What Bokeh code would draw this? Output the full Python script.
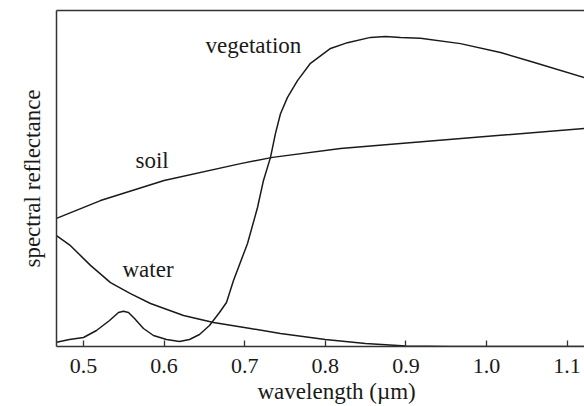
from bokeh.plotting import figure
from bokeh.models import Range1d, LinearAxis, FixedTicker, Title, NumeralTickFormatter
from bokeh.core.properties import value
from bokeh.embed import file_html
from bokeh.resources import INLINE

# wavelength (um) / relative spectral reflectance (arbitrary units)
soil_wl = [0.4665, 0.5211, 0.600, 0.6948, 0.7345, 0.8189, 0.8933, 1.0174, 1.1216]
soil_r = [26.7, 30.4, 34.6, 38.1, 39.4, 41.25, 42.3, 44.0, 45.4]

water_wl = [0.4665, 0.4839, 0.5087, 0.5335, 0.5583, 0.5831, 0.6241, 0.6613, 0.7072,
            0.7444, 0.800, 0.8499, 0.900, 0.9554, 1.1216]
water_r = [23.1, 21.0, 16.9, 13.3, 11.0, 8.96, 6.46, 5.0, 3.75, 2.7, 1.46, 0.63, 0.1, 0.0, 0.0]

veg_wl = [0.4665, 0.4826, 0.5000, 0.5161, 0.5323, 0.5434, 0.5496, 0.5558, 0.5633, 0.5744,
          0.5868, 0.6030, 0.6191, 0.6315, 0.6439, 0.6563, 0.6687, 0.6774, 0.6861, 0.7035,
          0.7159, 0.7233, 0.7320, 0.7382, 0.7444, 0.7531, 0.7655, 0.7816, 0.8065, 0.8275,
          0.8561, 0.8747, 0.8933, 0.9181, 0.9677, 1.0174, 1.0583, 1.1216]
veg_r = [0.90, 1.46, 1.875, 3.33, 5.42, 7.08, 7.35, 7.08, 5.83, 3.75,
         2.29, 1.46, 1.04, 1.46, 2.5, 4.375, 7.08, 9.17, 13.75, 21.46,
         28.96, 34.6, 39.4, 44.4, 48.5, 51.9, 55.4, 59.0, 62.1, 63.3,
         64.4, 64.6, 64.4, 64.2, 63.1, 61.25, 59.2, 56.0]

x_ticks = [0.5, 0.6, 0.7, 0.8, 0.9, 1.0, 1.1]

FONT = "Liberation Serif"
INK = "#1a1a1a"

p = figure(width=584, height=406, output_backend="svg", toolbar_location=None,
           x_range=Range1d(0.4665, 1.1216), y_range=Range1d(0, 70),
           min_border_left=56, min_border_right=0, min_border_top=10, min_border_bottom=60)
p.outline_line_color = None
p.grid.visible = False
p.background_fill_color = "white"

# x axis
xa = p.xaxis[0]
xa.ticker = FixedTicker(ticks=x_ticks)
xa.formatter = NumeralTickFormatter(format="0.0")
xa.major_tick_in = 6
xa.major_tick_out = 0
xa.minor_tick_line_color = None
xa.axis_line_color = "#333333"
xa.axis_line_width = 1.5
xa.major_tick_line_color = "#333333"
xa.major_tick_line_width = 1.3
xa.major_label_text_font = FONT
xa.major_label_text_font_size = "22px"
xa.major_label_text_color = INK
xa.major_label_standoff = 12

# y axis
ya = p.yaxis[0]
ya.ticker = FixedTicker(ticks=[])
ya.major_tick_in = 0
ya.major_tick_out = 0
ya.minor_tick_line_color = None
ya.major_label_text_color = None
ya.axis_line_color = "#333333"
ya.axis_line_width = 1.5
ya.axis_label = "spectral reflectance"
ya.axis_label_text_font = FONT
ya.axis_label_text_font_size = "23px"
ya.axis_label_text_font_style = "normal"
ya.axis_label_text_color = INK
ya.axis_label_standoff = 12

# top border
top = LinearAxis(ticker=FixedTicker(ticks=[]), major_tick_in=0, major_tick_out=0,
                 minor_tick_line_color=None, major_label_text_color=None,
                 axis_line_color="#333333", axis_line_width=1.5)
p.add_layout(top, "above")

# x axis label as a below-title so it can be offset like the reference
xlab = Title(text="wavelength (\u00b5m)", align="left", offset=201,
             text_font=FONT, text_font_size="23px", text_font_style="normal",
             text_color=INK, standoff=2)
p.add_layout(xlab, "below")

lw = 1.5
p.line(soil_wl, soil_r, line_color=INK, line_width=lw)
p.line(water_wl, water_r, line_color=INK, line_width=lw)
p.line(veg_wl, veg_r, line_color=INK, line_width=lw)

p.text(x=[0.6514], y=[62.7], text=["vegetation"], text_font=value(FONT),
       text_font_size="23px", text_baseline="middle", text_align="left", text_color=INK)
p.text(x=[0.5645], y=[38.75], text=["soil"], text_font=value(FONT),
       text_font_size="23px", text_baseline="middle", text_align="left", text_color=INK)
p.text(x=[0.5484], y=[16.0], text=["water"], text_font=value(FONT),
       text_font_size="23px", text_baseline="middle", text_align="left", text_color=INK)

open("out.html", "w").write(file_html(p, INLINE))
